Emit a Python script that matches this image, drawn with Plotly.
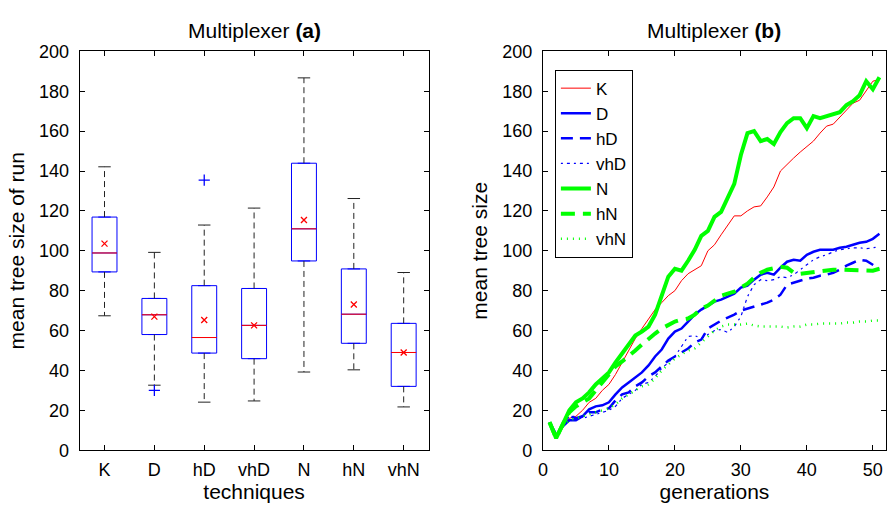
import plotly.graph_objects as go

# ---------------- Panel (a): box statistics ----------------
techniques = ["K", "D", "hD", "vhD", "N", "hN", "vhN"]
q1 = [89.4, 58.0, 48.7, 45.9, 94.9, 53.6, 32.0]
median = [98.9, 67.9, 56.5, 62.6, 111.0, 68.2, 49.0]
q3 = [116.9, 76.1, 82.5, 81.1, 143.9, 90.9, 63.6]
whisker_low = [67.4, 32.6, 24.1, 24.7, 39.2, 40.3, 21.7]
whisker_high = [142.1, 99.2, 112.9, 121.4, 186.7, 126.2, 89.1]
means = [103.6, 67.0, 65.3, 62.6, 115.4, 73.1, 49.0]
outlier_cat = ["D", "hD"]
outlier_val = [30.0, 135.4]

# ---------------- Panel (b): mean tree size per generation ----------------
generations = list(range(1, 52))
K = [14, 7, 12, 16, 17, 20, 24, 26, 30, 33, 38, 44, 50, 56, 61, 66, 70.5, 74, 77.5, 80,
     85, 88.5, 90.5, 92.5, 100, 103, 108, 113, 117.5, 117.5, 120, 122, 122.5, 127, 132, 140,
     143.5, 146.5, 149.5, 152.5, 155, 159, 162.5, 163.5, 167, 171, 174, 175.5, 180, 185, 186]
D = [14, 7, 12, 15, 15, 17, 20.5, 22, 22.5, 24, 28, 31.5, 34, 36.5, 39, 42.5, 47, 50.5, 56, 59.5,
     61, 64.5, 68, 70.5, 72.5, 74.5, 75.5, 77, 78.5, 81.5, 82.5, 85.5, 88, 89, 88, 91.5, 94.5,
     95.5, 95, 98, 99.5, 100.5, 100.5, 100.5, 101.5, 102, 103, 104, 104.5, 106, 108.5]
hD = [14, 8, 12, 17, 16, 17, 19, 19, 20.5, 21, 25, 28, 29, 32, 34, 37, 39, 42, 45, 47,
      49, 51, 54, 55.5, 61, 63, 65, 66.5, 68, 70, 71, 72, 73, 74, 75.5, 78, 83, 84, 85, 86,
      86.5, 87.5, 88, 89, 90.5, 92.5, 94, 95.5, 95, 93, 91]
vhD = [14, 8, 12, 17, 17, 16, 17, 18, 19, 20, 22, 26, 28, 30, 33, 34, 37, 41, 44, 47,
       52, 57, 57.5, 56, 58, 60, 60.5, 59, 62, 67, 77, 83, 85.5, 85, 85.5, 87, 86.5, 88, 90.5, 93,
       95.5, 97, 98, 99.5, 100.5, 101, 101.5, 101.5, 101, 101.5, 102]
N = [14, 6, 13, 20, 24, 26, 29, 33, 36, 39, 44, 48.5, 53.5, 57.5, 59.5, 62, 68, 77, 87, 91,
     90, 95, 100.5, 107.5, 110, 117, 119.5, 126.5, 133.5, 148, 159, 160, 155, 156, 153.5, 159.5,
     164, 166.5, 166.5, 161.5, 167.5, 166.5, 167.5, 168.5, 169.5, 173, 175, 178, 185, 181, 187]
hN = [14, 6, 13, 19, 22, 24, 26, 30, 34, 38, 42, 44.5, 47, 50, 53, 56, 58.5, 61, 63, 64.5,
      65.5, 66, 68, 71, 72.5, 75, 77.5, 78.5, 79.5, 81.5, 83.5, 86.5, 89, 90.5, 91.5, 92, 91.5,
      89, 88.5, 89, 89.5, 90, 90.5, 90.5, 90.5, 90.5, 90.5, 90, 90, 90, 91]
vhN = [14, 8, 12, 15, 16, 17, 18, 19, 20, 21, 23, 26, 28, 30, 32, 33, 36, 40, 43, 46,
       48, 50, 51, 54, 57, 60, 62, 63, 63, 63, 63.5, 62.5, 62, 62, 62, 62, 61.5, 62, 62, 63,
       63, 63.5, 63.5, 63.5, 63.5, 64, 64, 64.5, 64.5, 65, 65]

FONT = "Liberation Sans, Arial, Helvetica, sans-serif"
BLUE = "#0000ff"
RED = "#ff0000"
GREEN = "#00ff00"

fig = go.Figure()

pos = {c: i + 1 for i, c in enumerate(techniques)}
BW = 0.25   # half box width (data units)
CW = 0.125  # half cap width

# whiskers (dashed) and caps
for i, c in enumerate(techniques):
    x = pos[c]
    fig.add_trace(go.Scatter(x=[x, x, None, x, x], y=[q3[i], whisker_high[i], None, q1[i], whisker_low[i]],
                             mode="lines", line=dict(color="#222222", width=1, dash="6px,4px"),
                             showlegend=False, hoverinfo="skip", xaxis="x", yaxis="y"))
    fig.add_trace(go.Scatter(x=[x - CW, x + CW, None, x - CW, x + CW],
                             y=[whisker_high[i], whisker_high[i], None, whisker_low[i], whisker_low[i]],
                             mode="lines", line=dict(color="#222222", width=1),
                             showlegend=False, hoverinfo="skip", xaxis="x", yaxis="y"))

# boxes
fig.add_trace(go.Box(x=[pos[c] for c in techniques], q1=q1, median=median, q3=q3,
                     lowerfence=q1, upperfence=q3, width=2 * BW,
                     line=dict(color=BLUE, width=1), fillcolor="rgba(0,0,0,0)",
                     showlegend=False, boxpoints=False, xaxis="x", yaxis="y"))

# medians (red)
mx, my = [], []
for i, c in enumerate(techniques):
    mx += [pos[c] - BW, pos[c] + BW, None]
    my += [median[i], median[i], None]
fig.add_trace(go.Scatter(x=mx, y=my, mode="lines", line=dict(color=RED, width=1),
                         showlegend=False, hoverinfo="skip", xaxis="x", yaxis="y"))

# means
fig.add_trace(go.Scatter(x=[pos[c] for c in techniques], y=means, mode="markers",
                         marker=dict(symbol="x-thin", size=6, line=dict(color=RED, width=1.3)),
                         showlegend=False, xaxis="x", yaxis="y"))
# outliers
fig.add_trace(go.Scatter(x=[pos[c] for c in outlier_cat], y=outlier_val, mode="markers",
                         marker=dict(symbol="cross-thin", size=8, line=dict(color=BLUE, width=1.3)),
                         showlegend=False, xaxis="x", yaxis="y"))

# ---------------- Panel (b) lines ----------------
series = [
    ("K", K, dict(color=RED, width=1)),
    ("D", D, dict(color=BLUE, width=2.5)),
    ("hD", hD, dict(color=BLUE, width=2.5, dash="12px,7px")),
    ("vhD", vhD, dict(color=BLUE, width=1.2, dash="2px,4px,3px,4px")),
    ("N", N, dict(color=GREEN, width=4)),
    ("hN", hN, dict(color=GREEN, width=4, dash="14px,8px")),
    ("vhN", vhN, dict(color=GREEN, width=2.5, dash="1px,5px")),
]
for name, ys, ln in series:
    fig.add_trace(go.Scatter(x=generations, y=ys, mode="lines", name=name, line=ln,
                             xaxis="x2", yaxis="y2"))

TICK = 18
TITLE = 21
axis_common = dict(showline=True, linecolor="black", linewidth=1, mirror="ticks",
                   ticks="inside", ticklen=5, tickcolor="black", showgrid=False, zeroline=False,
                   tickfont=dict(family=FONT, size=TICK, color="black"))

top, bottom = 1 - 43 / 515, 1 - 458 / 515

fig.update_layout(
    width=889, height=515,
    margin=dict(l=0, r=0, t=0, b=0),
    paper_bgcolor="white", plot_bgcolor="white",
    font=dict(family=FONT, size=TICK, color="black"),
    xaxis=dict(domain=[75 / 889, 426 / 889], range=[0.5, 7.5],
               tickvals=[pos[c] for c in techniques], ticktext=techniques, ticklabelstandoff=3,
               title=dict(text="techniques", font=dict(size=TITLE), standoff=5), **axis_common),
    yaxis=dict(domain=[bottom, top], range=[0, 200], tickvals=list(range(0, 201, 20)),
               ticklabelstandoff=6,
               title=dict(text="mean tree size of run", font=dict(size=TITLE), standoff=8), **axis_common),
    xaxis2=dict(domain=[541 / 889, 886 / 889], range=[0, 52], anchor="y2",
                tickvals=list(range(0, 51, 10)), ticklabelstandoff=3,
                title=dict(text="generations", font=dict(size=TITLE), standoff=5), **axis_common),
    yaxis2=dict(domain=[bottom, top], range=[0, 200], anchor="x2", tickvals=list(range(0, 201, 20)),
                ticklabelstandoff=6,
                title=dict(text="mean tree size", font=dict(size=TITLE), standoff=8), **axis_common),
    legend=dict(x=553 / 889, y=1 - 62 / 515, xanchor="left", yanchor="top",
                bordercolor="black", borderwidth=1, bgcolor="white",
                font=dict(family=FONT, size=17), tracegroupgap=0, itemwidth=30),
    showlegend=True,
    annotations=[
        dict(text="Multiplexer <b>(a)</b>", x=(75 + 426) / 2 / 889, y=1 - 21 / 515,
             xanchor="center", yanchor="middle",
             xref="paper", yref="paper", showarrow=False, font=dict(size=TITLE, family=FONT)),
        dict(text="Multiplexer <b>(b)</b>", x=(541 + 886) / 2 / 889, y=1 - 21 / 515,
             xanchor="center", yanchor="middle",
             xref="paper", yref="paper", showarrow=False, font=dict(size=TITLE, family=FONT)),
    ],
)

fig.write_html("out.html")
